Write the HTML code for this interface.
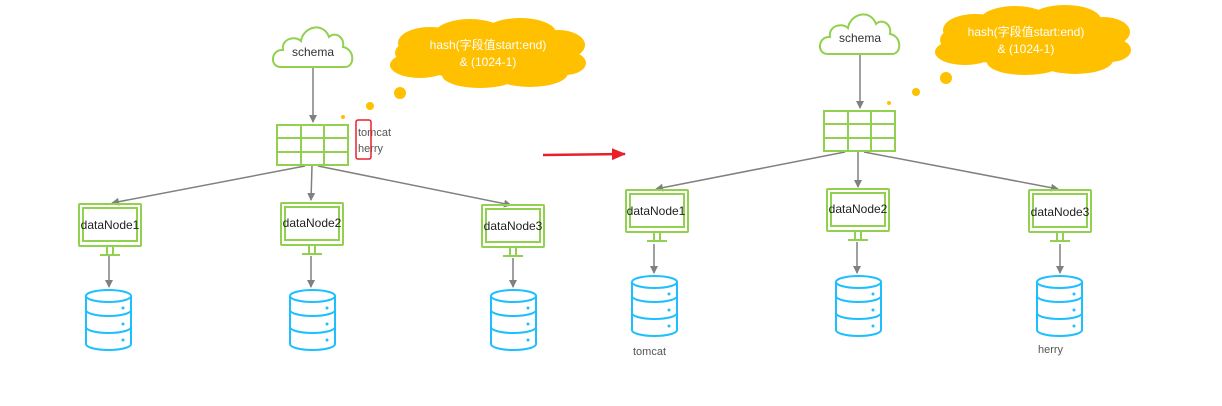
<!DOCTYPE html>
<html><head><meta charset="utf-8"><style>
html,body{margin:0;padding:0;background:#fff;}
svg{display:block;}
text{font-family:"Liberation Sans","Noto Sans CJK SC",sans-serif;}
</style></head><body>
<svg width="1222" height="406" viewBox="0 0 1222 406" xmlns="http://www.w3.org/2000/svg">
<defs>
<marker id="ah" markerWidth="8" markerHeight="8" refX="7" refY="4" orient="auto" markerUnits="userSpaceOnUse">
<path d="M0,0 L8,4 L0,8 Z" fill="#808080"/></marker>
<marker id="rah" markerWidth="14" markerHeight="12" refX="13" refY="6" orient="auto" markerUnits="userSpaceOnUse">
<path d="M0,0 L14,6 L0,12 Z" fill="#e8202a"/></marker>
<g id="cloud"><path d="M8,44 C-4,44 -2,26 10,27 C8,16 22,12 28,18 C30,4 50,-2 56,14 C62,8 72,14 70,24 C82,26 82,44 72,44 Z" fill="#fff" stroke="#92d050" stroke-width="2"/></g>
<g id="ycloud" fill="#ffc000">
<ellipse cx="97" cy="34" rx="92" ry="26"/>
<ellipse cx="40" cy="24" rx="32" ry="16"/>
<ellipse cx="80" cy="16" rx="36" ry="16"/>
<ellipse cx="130" cy="14" rx="36" ry="15"/>
<ellipse cx="168" cy="26" rx="27" ry="15"/>
<ellipse cx="175" cy="44" rx="21" ry="12"/>
<ellipse cx="140" cy="54" rx="38" ry="14"/>
<ellipse cx="90" cy="56" rx="38" ry="13"/>
<ellipse cx="30" cy="46" rx="30" ry="13"/>
</g>
<g id="tbl" fill="none" stroke="#92d050" stroke-width="2">
<rect x="0" y="0" width="71" height="40"/>
<line x1="24" y1="0" x2="24" y2="40"/><line x1="47" y1="0" x2="47" y2="40"/>
<line x1="0" y1="13" x2="71" y2="13"/><line x1="0" y1="27" x2="71" y2="27"/>
</g>
<g id="mon" fill="none" stroke="#92d050" stroke-width="2">
<rect x="0" y="0" width="62" height="42" rx="1"/>
<rect x="4" y="4" width="54" height="33"/>
<line x1="28" y1="42" x2="28" y2="50"/><line x1="34" y1="42" x2="34" y2="50"/>
<line x1="21" y1="51" x2="41" y2="51"/>
</g>
<g id="db" fill="none" stroke="#1ebfff" stroke-width="2">
<path d="M0,6 A22.5,6 0 0,1 45,6 V54 A22.5,6 0 0,1 0,54 Z" fill="#fff"/>
<path d="M0,6 A22.5,6 0 0,0 45,6"/>
<path d="M0,20 A22.5,6 0 0,0 45,20"/>
<path d="M0,37 A22.5,6 0 0,0 45,37"/>
<circle cx="37" cy="18" r="1.5" fill="#1ebfff" stroke="none"/>
<circle cx="37" cy="34" r="1.5" fill="#1ebfff" stroke="none"/>
<circle cx="37" cy="50" r="1.5" fill="#1ebfff" stroke="none"/>
</g>
</defs>

<g stroke="#808080" stroke-width="1.5" fill="none">
<line x1="313" y1="68" x2="313" y2="122" marker-end="url(#ah)"/>
<line x1="305" y1="166" x2="112" y2="203" marker-end="url(#ah)"/>
<line x1="312" y1="166" x2="311" y2="200" marker-end="url(#ah)"/>
<line x1="318" y1="166" x2="511" y2="205" marker-end="url(#ah)"/>
<line x1="109" y1="256" x2="109" y2="287" marker-end="url(#ah)"/>
<line x1="311" y1="256" x2="311" y2="287" marker-end="url(#ah)"/>
<line x1="513" y1="258" x2="513" y2="287" marker-end="url(#ah)"/>
<line x1="860" y1="55" x2="860" y2="108" marker-end="url(#ah)"/>
<line x1="845" y1="152" x2="656" y2="189" marker-end="url(#ah)"/>
<line x1="858" y1="152" x2="858" y2="187" marker-end="url(#ah)"/>
<line x1="864" y1="152" x2="1058" y2="189" marker-end="url(#ah)"/>
<line x1="654" y1="244" x2="654" y2="273" marker-end="url(#ah)"/>
<line x1="857" y1="242" x2="857" y2="273" marker-end="url(#ah)"/>
<line x1="1060" y1="244" x2="1060" y2="273" marker-end="url(#ah)"/>
</g>
<line x1="543" y1="155" x2="625" y2="154" stroke="#e8202a" stroke-width="2.5" marker-end="url(#rah)"/>

<use href="#cloud" x="273" y="23"/>
<text x="313" y="56" font-size="12" fill="#333" text-anchor="middle">schema</text>
<use href="#ycloud" x="390" y="19"/>
<text x="488" y="49" font-size="12" fill="#fff" text-anchor="middle">hash(字段值start:end)</text>
<text x="488" y="66" font-size="12" fill="#fff" text-anchor="middle">&amp; (1024-1)</text>
<circle cx="400" cy="93" r="6" fill="#ffc000"/><circle cx="370" cy="106" r="4" fill="#ffc000"/><circle cx="343" cy="117" r="2" fill="#ffc000"/>
<use href="#tbl" x="277" y="125"/>
<text x="358" y="136" font-size="11" fill="#555">tomcat</text>
<text x="358" y="152" font-size="11" fill="#555">herry</text>
<rect x="356" y="120" width="15" height="39" rx="2" fill="none" stroke="#e8202a" stroke-width="1.5"/>
<use href="#mon" x="79" y="204"/><text x="110" y="229" font-size="12" fill="#222" text-anchor="middle">dataNode1</text>
<use href="#mon" x="281" y="203"/><text x="312" y="227" font-size="12" fill="#222" text-anchor="middle">dataNode2</text>
<use href="#mon" x="482" y="205"/><text x="513" y="230" font-size="12" fill="#222" text-anchor="middle">dataNode3</text>
<use href="#db" x="86" y="290"/><use href="#db" x="290" y="290"/><use href="#db" x="491" y="290"/>

<use href="#cloud" x="820" y="10"/>
<text x="860" y="42" font-size="12" fill="#333" text-anchor="middle">schema</text>
<use href="#ycloud" x="935" y="6"/>
<text x="1026" y="36" font-size="12" fill="#fff" text-anchor="middle">hash(字段值start:end)</text>
<text x="1026" y="53" font-size="12" fill="#fff" text-anchor="middle">&amp; (1024-1)</text>
<circle cx="946" cy="78" r="6" fill="#ffc000"/><circle cx="916" cy="92" r="4" fill="#ffc000"/><circle cx="889" cy="103" r="2" fill="#ffc000"/>
<use href="#tbl" x="824" y="111"/>
<use href="#mon" x="626" y="190"/><text x="656" y="215" font-size="12" fill="#222" text-anchor="middle">dataNode1</text>
<use href="#mon" x="827" y="189"/><text x="858" y="213" font-size="12" fill="#222" text-anchor="middle">dataNode2</text>
<use href="#mon" x="1029" y="190"/><text x="1060" y="216" font-size="12" fill="#222" text-anchor="middle">dataNode3</text>
<use href="#db" x="632" y="276"/><use href="#db" x="836" y="276"/><use href="#db" x="1037" y="276"/>
<text x="633" y="355" font-size="11" fill="#555">tomcat</text>
<text x="1038" y="353" font-size="11" fill="#555">herry</text>
</svg>
</body></html>
